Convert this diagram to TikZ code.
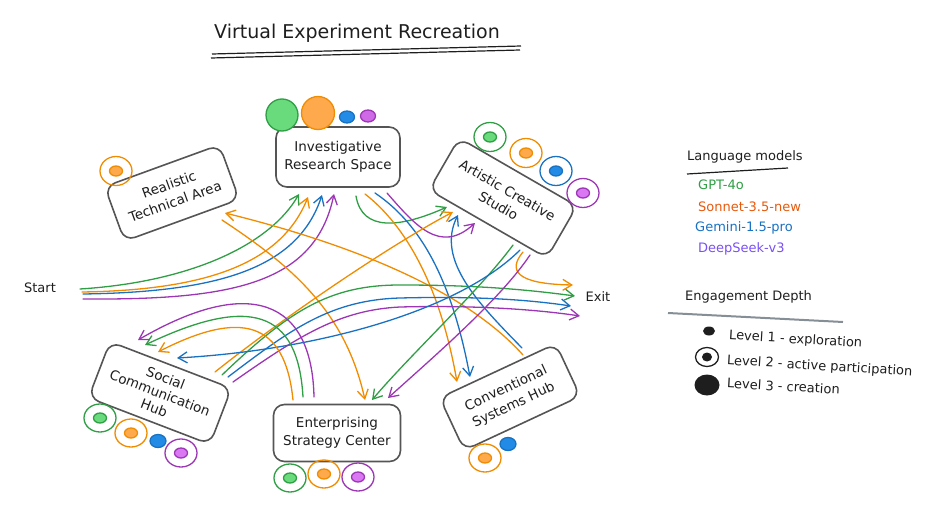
\documentclass[tikz,border=0pt]{standalone}
\usepackage{fontspec}
\setmainfont{DejaVu Sans}
\usetikzlibrary{arrows.meta}
\definecolor{cg}{HTML}{2F9E44}
\definecolor{co}{HTML}{F08C00}
\definecolor{cb}{HTML}{1971C2}
\definecolor{cp}{HTML}{9C36B5}
\definecolor{fg}{HTML}{69DB7C}
\definecolor{fo}{HTML}{FFA94D}
\definecolor{fb}{HTML}{228BE6}
\definecolor{fp}{HTML}{DA77F2}
\definecolor{tsonnet}{HTML}{E8590C}
\definecolor{tdeep}{HTML}{7950F2}
\definecolor{boxgray}{HTML}{555555}
\definecolor{textdark}{HTML}{1E1E1E}
\definecolor{linegray}{HTML}{868E96}
\begin{document}
\begin{tikzpicture}[x=1pt,y=-1pt]
\tikzset{
  box/.style={draw=boxgray, line width=1.6pt, rounded corners=11pt, fill=white, align=center,
    font=\fontsize{13.5}{18}\selectfont, text=textdark, inner sep=3pt,
    minimum width=124pt, minimum height=60pt},
  conn/.style={line width=1.3pt, line cap=round, -{Straight Barb[length=9pt,width=11pt]}},
  lbl/.style={font=\fontsize{13}{15}\selectfont, text=textdark, inner sep=0pt},
  mk/.style={line width=1.3pt},
}
\useasboundingbox (0,0) rectangle (946,519);

% title
\node[lbl, font=\fontsize{19}{22}\selectfont] (title) at (357,33) {Virtual Experiment Recreation};
\draw[line width=1.2pt, textdark] (212,54) -- (521,46);
\draw[line width=1.2pt, textdark] (211,58) -- (520,50);

% boxes
\node[box] (inv) at (338,157) {Investigative\\Research Space};
\node[box, rotate=20, minimum width=122pt, minimum height=58pt] (rta) at (172,193) {Realistic\\Technical Area};
\node[box, rotate=-30, minimum width=136pt, minimum height=60pt] (acs) at (503,198) {Artistic Creative\\Studio};
\node[box, rotate=-21, minimum width=130pt, minimum height=60pt, font=\fontsize{13.5}{16}\selectfont] (sch) at (160,393) {Social\\Communication\\Hub};
\node[box, minimum width=127pt, minimum height=57pt] (esc) at (337,433) {Enterprising\\Strategy Center};
\node[box, rotate=25, minimum width=128pt, minimum height=58pt] (csh) at (510,397) {Conventional\\Systems Hub};

\node[lbl] (start) at (40,288) {Start};
\node[lbl] (exit) at (598,297) {Exit};

% markers: Investigative
\filldraw[mk, draw=cg, fill=fg] (282,115) circle[radius=16pt];
\filldraw[mk, draw=co, fill=fo] (318,113) circle[radius=16.5pt];
\filldraw[mk, draw=cb, fill=fb] (347,117) circle[x radius=7.5pt, y radius=6pt];
\filldraw[mk, draw=cp, fill=fp!80!cp] (368,116) circle[x radius=7.5pt, y radius=6pt];
% Realistic
\draw[mk, co] (116,171) circle[x radius=16pt, y radius=14.5pt];
\filldraw[mk, draw=co, fill=fo] (116,171) circle[x radius=6.5pt, y radius=5pt];
% Artistic
\draw[mk, cg] (490,137) circle[x radius=16pt, y radius=14.5pt];
\filldraw[mk, draw=cg, fill=fg] (490,137) circle[x radius=6.5pt, y radius=5pt];
\draw[mk, co] (526,153) circle[x radius=16pt, y radius=14.5pt];
\filldraw[mk, draw=co, fill=fo] (526,153) circle[x radius=6.5pt, y radius=5pt];
\draw[mk, cb] (556,171) circle[x radius=16pt, y radius=14.5pt];
\filldraw[mk, draw=cb, fill=fb] (556,171) circle[x radius=6.5pt, y radius=5pt];
\draw[mk, cp] (583,193) circle[x radius=16pt, y radius=14.5pt];
\filldraw[mk, draw=cp, fill=fp] (583,193) circle[x radius=6.5pt, y radius=5pt];
% Social
\draw[mk, cg] (100,418) circle[x radius=16pt, y radius=14pt];
\filldraw[mk, draw=cg, fill=fg] (100,418) circle[x radius=6.5pt, y radius=5pt];
\draw[mk, co] (131,433) circle[x radius=16pt, y radius=14pt];
\filldraw[mk, draw=co, fill=fo] (131,433) circle[x radius=6.5pt, y radius=5pt];
\filldraw[mk, draw=cb, fill=fb] (158,441) circle[x radius=8pt, y radius=6.5pt];
\draw[mk, cp] (181,453) circle[x radius=16pt, y radius=14pt];
\filldraw[mk, draw=cp, fill=fp] (181,453) circle[x radius=6.5pt, y radius=5pt];
% Enterprising
\draw[mk, cg] (290,478) circle[x radius=16pt, y radius=14pt];
\filldraw[mk, draw=cg, fill=fg] (290,478) circle[x radius=6.5pt, y radius=5pt];
\draw[mk, co] (324,474) circle[x radius=16pt, y radius=14pt];
\filldraw[mk, draw=co, fill=fo] (324,474) circle[x radius=6.5pt, y radius=5pt];
\draw[mk, cp] (358,477) circle[x radius=16pt, y radius=14pt];
\filldraw[mk, draw=cp, fill=fp] (358,477) circle[x radius=6.5pt, y radius=5pt];
% Conventional
\draw[mk, co] (485,458) circle[x radius=16pt, y radius=14pt];
\filldraw[mk, draw=co, fill=fo] (485,458) circle[x radius=6.5pt, y radius=5pt];
\filldraw[mk, draw=cb, fill=fb] (508,444) circle[x radius=8pt, y radius=6.5pt];

% Start -> Investigative
\draw[conn, cg] ([shift={(40,1)}]start.center) .. controls (190,282) and (270,245) .. ([shift={(-39,37)}]inv.center);
\draw[conn, co] ([shift={(42,4)}]start.center) .. controls (210,290) and (282,262) .. ([shift={(-30,40)}]inv.center);
\draw[conn, cb] ([shift={(43,6)}]start.center) .. controls (220,292) and (298,268) .. ([shift={(-16,38)}]inv.center);
\draw[conn, cp] ([shift={(43,11)}]start.center) .. controls (230,300) and (315,285) .. ([shift={(-4,37)}]inv.center);

% Investigative -> Artistic
\draw[conn, cg] ([shift={(18,39)}]inv.center) .. controls (362,232) and (400,228) .. ([shift={(-56,9)}]acs.center);
\draw[conn, cp] ([shift={(49,36)}]inv.center) .. controls (415,225) and (440,255) .. ([shift={(-28,25)}]acs.center);
% Investigative -> Conventional
\draw[conn, co] ([shift={(27,37)}]inv.center) .. controls (405,225) and (440,285) .. ([shift={(-53,-15)}]csh.center);
\draw[conn, cb] ([shift={(37,36)}]inv.center) .. controls (415,220) and (450,270) .. ([shift={(-40,-20)}]csh.center);
% Conventional -> Artistic, Realistic
\draw[conn, cb] ([shift={(12,-49)}]csh.center) .. controls (480,305) and (435,260) .. ([shift={(-45,17)}]acs.center);
\draw[conn, co] ([shift={(13,-42)}]csh.center) .. controls (490,318) and (415,260) .. ([shift={(53,20)}]rta.center);
% Realistic -> Enterprising
\draw[conn, co] ([shift={(50,27)}]rta.center) .. controls (290,265) and (345,310) .. ([shift={(28,-33)}]esc.center);
% Social -> Artistic
\draw[conn, co] ([shift={(55,-21)}]sch.center) .. controls (280,320) and (390,245) .. ([shift={(-50,14)}]acs.center);
% Social -> Exit
\draw[conn, cg] ([shift={(62,-18)}]sch.center) .. controls (290,310) and (330,285) .. (400,285) .. controls (480,285) and (530,290) .. ([shift={(-23,-1)}]exit.center);
\draw[conn, cb] ([shift={(68,-16)}]sch.center) .. controls (290,330) and (330,300) .. (400,298) .. controls (480,296) and (530,300) .. ([shift={(-27,9)}]exit.center);
\draw[conn, cp] ([shift={(73,-11)}]sch.center) .. controls (300,335) and (340,310) .. (400,307) .. controls (480,305) and (540,310) .. ([shift={(-18,19)}]exit.center);
% Artistic -> Exit
\draw[conn, co] ([shift={(20,54)}]acs.center) .. controls (508,270) and (515,284) .. ([shift={(-25,-12)}]exit.center);
% Artistic -> Enterprising
\draw[conn, cg] ([shift={(10,47)}]acs.center) .. controls (480,290) and (410,355) .. ([shift={(35,-33)}]esc.center);
\draw[conn, cp] ([shift={(27,57)}]acs.center) .. controls (500,300) and (430,360) .. ([shift={(51,-35)}]esc.center);
% Artistic -> Social
\draw[conn, cb] ([shift={(17,52)}]acs.center) .. controls (460,310) and (320,350) .. ([shift={(17,-35)}]sch.center);
% Enterprising -> Social
\draw[conn, co] ([shift={(-44,-33)}]esc.center) .. controls (285,320) and (240,310) .. ([shift={(-2,-41)}]sch.center);
\draw[conn, cg] ([shift={(-34,-36)}]esc.center) .. controls (298,310) and (250,295) .. ([shift={(-15,-48)}]sch.center);
\draw[conn, cp] ([shift={(-23,-36)}]esc.center) .. controls (312,300) and (250,275) .. ([shift={(-22,-53)}]sch.center);

% legend: language models
\node[lbl, anchor=west] (lm) at (687,157) {Language models};
\draw[line width=1.2pt, textdark] (687,174) -- (788,168);
\node[lbl, anchor=west, text=cg] (m1) at (698,185) {GPT-4o};
\node[lbl, anchor=west, text=tsonnet] (m2) at (698,207) {Sonnet-3.5-new};
\node[lbl, anchor=west, text=cb] (m3) at (695,228) {Gemini-1.5-pro};
\node[lbl, anchor=west, text=tdeep] (m4) at (698,249) {DeepSeek-v3};

% legend: engagement depth
\node[lbl, anchor=west] (ed) at (685,297) {Engagement Depth};
\draw[line width=2pt, linegray] (668,313) -- (843,322);
\fill[textdark] (709,331) circle[x radius=6pt, y radius=4.5pt];
\node[lbl, anchor=west, rotate=-3.3] (l1) at (729,336) {Level 1 - exploration};
\draw[line width=1.3pt, textdark] (707,357) circle[x radius=11.5pt, y radius=9.5pt];
\fill[textdark] (707,357) circle[x radius=5pt, y radius=4.5pt];
\node[lbl, anchor=west, rotate=-3.5] (l2) at (727,361) {Level 2 - active participation};
\fill[textdark] (707,385) circle[x radius=12.5pt, y radius=10.5pt];
\node[lbl, anchor=west, rotate=-3.3] (l3) at (727,383) {Level 3 - creation};
\end{tikzpicture}
\end{document}
